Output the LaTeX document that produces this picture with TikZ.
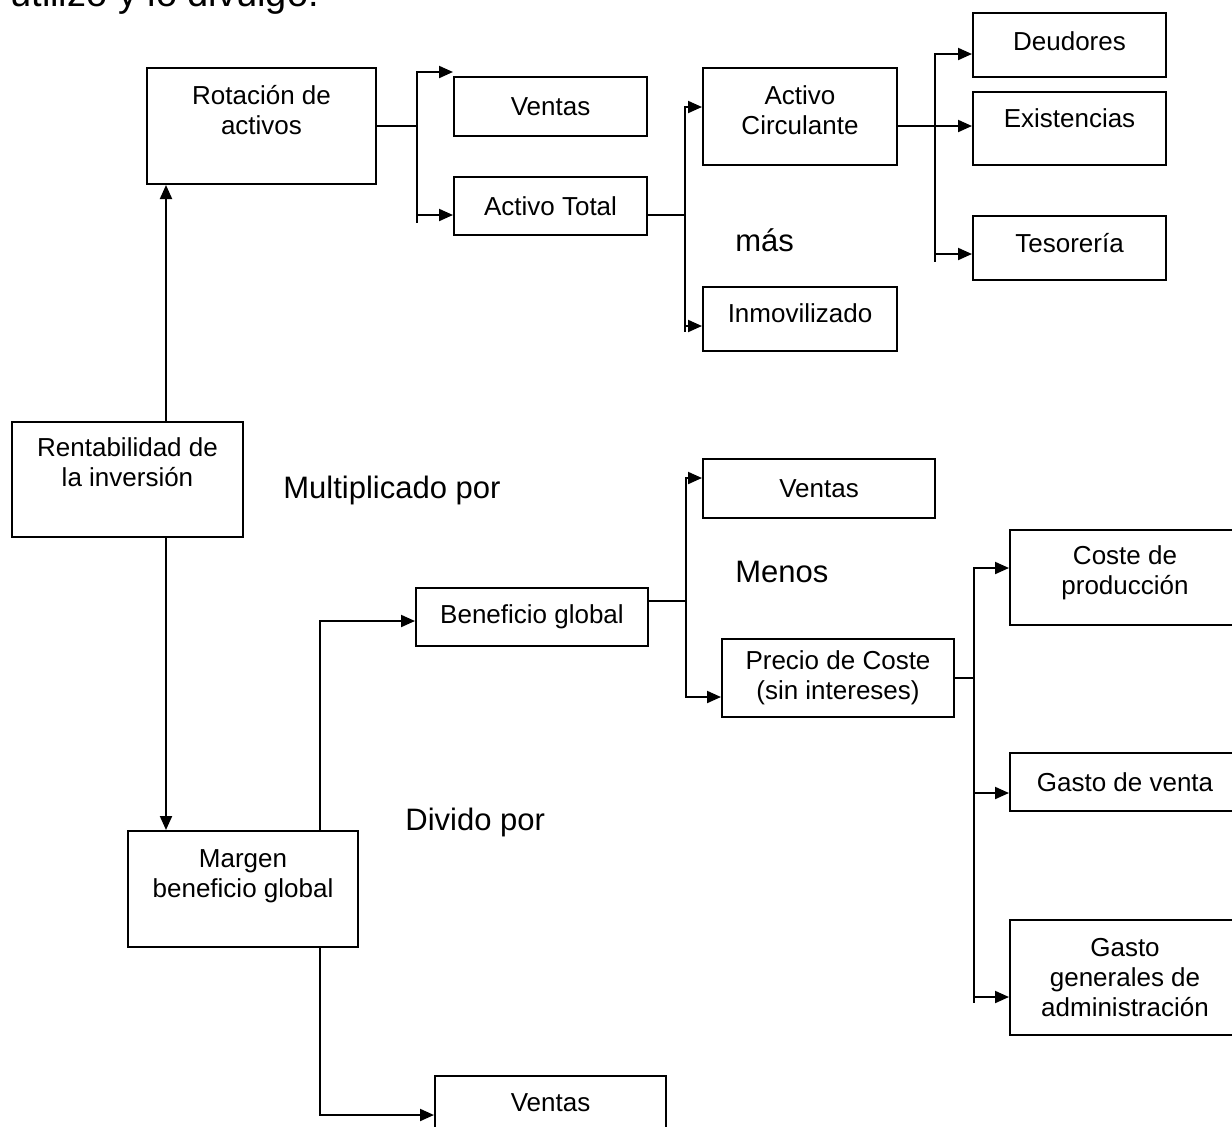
\documentclass[tikz,border=0pt]{standalone}
\usepackage{fontspec}
\setmainfont{Liberation Sans}
\usetikzlibrary{positioning,arrows.meta}
\newcommand{\boxpad}[1]{\\[#1]\mbox{}}

\begin{document}
\begin{tikzpicture}[
    x=0.5pt, y=-0.5pt,
    box/.style={rectangle, draw, line width=1pt, inner sep=0pt, align=center,
        font=\fontsize{13}{15}\selectfont},
    dims/.style 2 args={minimum width=#1pt, minimum height=#2pt},
    word/.style={inner sep=0pt, anchor=west, font=\fontsize{15.5}{18}\selectfont},
    arr/.style={-{Triangle[length=7pt,width=6pt]}, line width=1pt},
    wire/.style={line width=1pt}
]
\path[fill=white, use as bounding box] (0,0) rectangle (1232,1126);

\node[inner sep=0pt, anchor=base west, font=\fontsize{19}{22}\selectfont] (intro) at (10,6) {utilizo y lo divulgo.};

\node[box, dims={114.5}{58}] (rot) at (261.5,126) {Rotación de\\activos\boxpad{1pt}};
\node[box, dims={96.5}{29.5}] (venA) at (550.5,106.5) {Ventas};
\node[box, dims={96.5}{29}] (atot) at (550.5,206) {Activo Total};
\node[box, dims={97}{48.5}] (acirc) at (800,116.5) {Activo\\Circulante\boxpad{-8.5pt}};
\node[box, dims={97}{32}] (inmov) at (800,319) {Inmovilizado\boxpad{-9pt}};
\node[box, dims={96.5}{32}] (deud) at (1069.5,45) {Deudores\boxpad{-11pt}};
\node[box, dims={96.5}{36.5}] (exist) at (1069.5,128.5) {Existencias\boxpad{-4.5pt}};
\node[box, dims={96.5}{32}] (teso) at (1069.5,248) {Tesorería\boxpad{-10pt}};
\node[box, dims={115.5}{57.5}] (rent) at (127.5,479.5) {Rentabilidad de\\la inversión\boxpad{2.5pt}};
\node[box, dims={115}{58}] (margen) at (243,889) {Margen\\beneficio global\boxpad{0pt}};
\node[box, dims={116}{29}] (benef) at (532,617) {Beneficio global};
\node[box, dims={116}{29.5}] (venB) at (819,488.5) {Ventas};
\node[box, dims={116}{39}] (precio) at (838,678) {Precio de Coste\\(sin intereses)};
\node[box, dims={115}{47.5}] (coste) at (1125,577.5) {Coste de\\producción\boxpad{-8pt}};
\node[box, dims={115}{29}] (gastov) at (1125,782) {Gasto de venta};
\node[box, dims={115}{57.5}] (gastog) at (1125,977.5) {Gasto\\generales de\\administración};
\node[box, dims={115.5}{42}] (venC) at (550.5,1118) {Ventas\boxpad{0pt}};

\node[word] (mult) at (283,490) {Multiplicado por};
\node[word] (mas) at (735,240) {más};
\node[word] (menos) at (735,572) {Menos};
\node[word] (divido) at (405,822) {Divido por};

% rentabilidad
\coordinate (rA) at ([xshift=19.25pt]rent.north);
\coordinate (rB) at ([xshift=19.25pt]rent.south);
\draw[arr] (rA) -- (rA |- rot.south);
\draw[arr] (rB) -- (rB |- margen.north);

% margen
\coordinate (mA) at ([xshift=38.5pt]margen.north);
\coordinate (mB) at ([xshift=38.5pt]margen.south);
\coordinate (bW) at ([yshift=-2pt]benef.west);
\coordinate (cW) at ([yshift=1.5pt]venC.west);
\draw[arr] (mA) |- (bW);
\draw[arr] (mB) |- (cW);

% rotacion de activos
\coordinate[right=20pt of rot.east] (jA);
\coordinate (tA) at ([yshift=2pt]venA.north west);
\coordinate (tB) at ([yshift=-4.5pt]atot.west);
\draw[wire] (rot.east) -- (jA);
\draw[arr] (jA) |- (tA);
\draw[arr] (jA) |- (tB);
\draw[wire] (jA |- tB) -- ++(0,8);

% activo total
\coordinate (oB) at ([yshift=-4.5pt]atot.east);
\coordinate[right=18.5pt of oB] (jB);
\coordinate (tC) at ([yshift=4.75pt]acirc.west);
\coordinate (tD) at ([yshift=-3.5pt]inmov.west);
\draw[wire] (oB) -- (jB);
\draw[arr] (jB) |- (tC);
\draw[arr] (jB) |- (tD);
\draw[wire] (jB |- tD) -- ++(0,6);

% activo circulante
\coordinate (oE) at ([yshift=-4.75pt]acirc.east);
\coordinate[right=18.5pt of oE] (jE);
\coordinate (tF) at ([yshift=-4.5pt]deud.west);
\coordinate (tG) at ([yshift=-3pt]teso.west);
\draw[arr] (oE) -- (oE -| exist.west);
\draw[arr] (jE) |- (tF);
\draw[arr] (jE) |- (tG);
\draw[wire] (jE |- tG) -- ++(0,8);

% beneficio global
\coordinate (oH) at ([yshift=8pt]benef.east);
\coordinate[right=18.5pt of oH] (jH);
\coordinate (tH) at ([yshift=5.25pt]venB.west);
\coordinate (tI) at ([yshift=-9.5pt]precio.west);
\draw[wire] (oH) -- (jH);
\draw[arr] (jH) |- (tH);
\draw[arr] (jH) |- (tI);

% precio de coste
\coordinate[right=9.5pt of precio.east] (jP);
\coordinate (tJ) at ([yshift=4.75pt]coste.west);
\coordinate (tK) at ([yshift=-5.5pt]gastov.west);
\coordinate (tL) at ([yshift=-9.75pt]gastog.west);
\draw[wire] (precio.east) -- (jP);
\draw[arr] (jP) |- (tJ);
\draw[arr] (jP) |- (tK);
\draw[arr] (jP) |- (tL);
\draw[wire] (jP |- tL) -- ++(0,6);
\end{tikzpicture}
\end{document}
